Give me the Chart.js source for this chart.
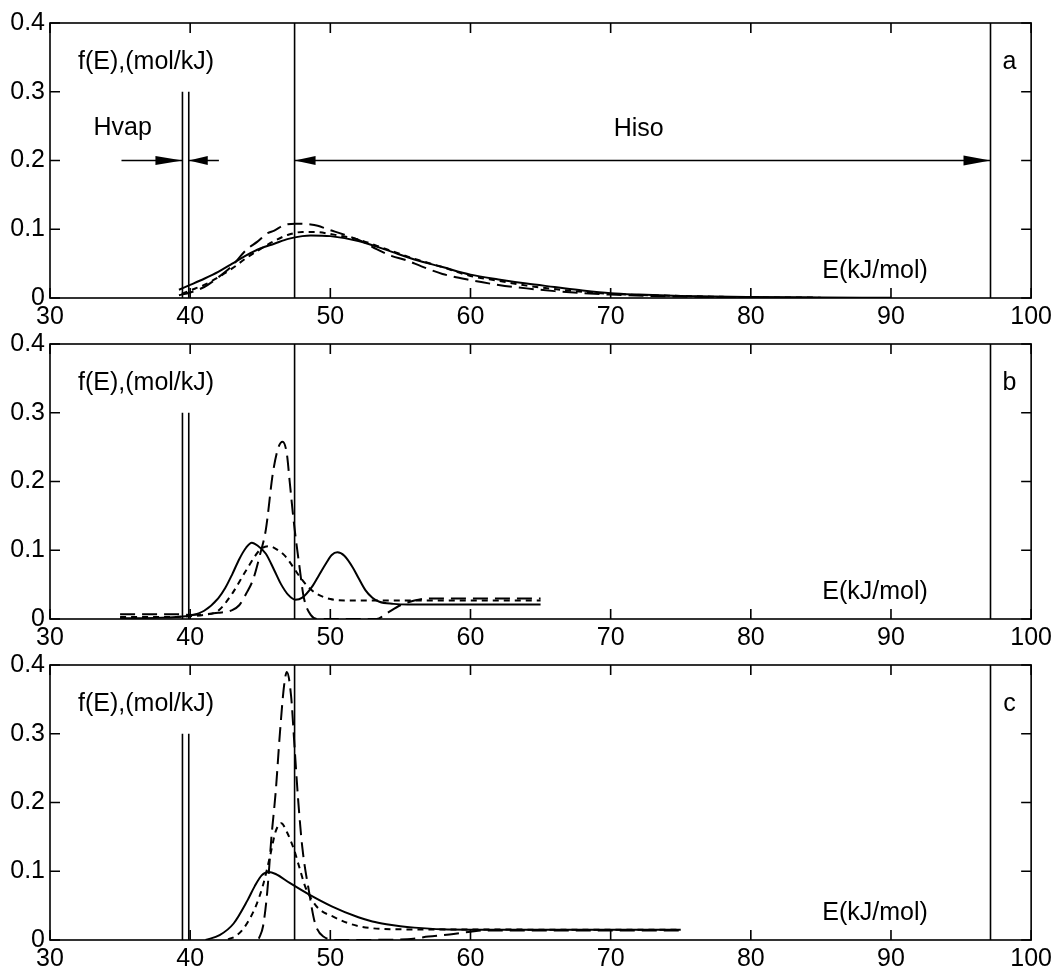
<!DOCTYPE html>
<html>
<head>
<meta charset="utf-8">
<title>f(E) distributions</title>
<script src="https://cdn.jsdelivr.net/npm/chart.js@4.4.1/dist/chart.umd.min.js"></script>
<style>
  body { margin: 0; background: #fff; overflow: hidden; }
  .panel { position: absolute; left: 0; }
</style>
</head>
<body>
<div class="panel" style="top:0px"><canvas id="chart_a" width="1056" height="333"></canvas></div>
<div class="panel" style="top:321px"><canvas id="chart_b" width="1056" height="333"></canvas></div>
<div class="panel" style="top:642px"><canvas id="chart_c" width="1056" height="331"></canvas></div>

<script>
// axis ticks
const xTicks = [30, 40, 50, 60, 70, 80, 90, 100];
const yTicks = [0, 0.1, 0.2, 0.3, 0.4];

// vertical marker lines (E, top value)
const markerE = [39.45, 39.9, 47.45, 97.1];
const markerTop = [0.3, 0.3, 0.4, 0.4];

// arrows of panel a, at f = 0.2
const arrowLevel = 0.2;
const hvapLeft = [35.1, 39.45];
const hvapRight = [39.9, 42.05];
const hisoSpan = [47.45, 97.1];

// panel a
const aSolidE = [39.2, 40, 41, 42, 43, 44, 45, 46, 47, 48, 48.6, 50, 52, 54, 56, 58, 60, 62, 64, 66, 68, 70, 72, 75, 80, 85, 90];
const aSolid  = [0.012, 0.019, 0.028, 0.038, 0.05, 0.062, 0.072, 0.079, 0.086, 0.09, 0.091, 0.09, 0.083, 0.07, 0.056, 0.045, 0.034, 0.027, 0.021, 0.016, 0.011, 0.007, 0.005, 0.003, 0.0015, 0.0008, 0.0003];
const aShortE = [39.4, 40, 41, 42, 43, 44, 45, 46, 47, 48, 49, 50, 52, 54, 56, 58, 60, 62, 64, 66, 68, 70, 75, 80, 85];
const aShort  = [0.006, 0.011, 0.019, 0.03, 0.043, 0.058, 0.071, 0.083, 0.092, 0.096, 0.096, 0.093, 0.085, 0.071, 0.057, 0.045, 0.032, 0.025, 0.018, 0.013, 0.009, 0.006, 0.003, 0.001, 0.0005];
const aLongE  = [39.2, 40, 41, 42, 43, 44, 44.8, 45.5, 46, 46.7, 47.5, 48.6, 49.1, 49.8, 51, 52.3, 53.3, 54.4, 55.4, 56.5, 58, 60, 62, 64, 66, 68, 70, 75, 80];
const aLong   = [0.004, 0.008, 0.016, 0.03, 0.047, 0.07, 0.082, 0.094, 0.098, 0.106, 0.108, 0.107, 0.105, 0.1, 0.092, 0.082, 0.071, 0.061, 0.055, 0.046, 0.035, 0.026, 0.019, 0.014, 0.01, 0.007, 0.005, 0.002, 0.001];

// panel b
const bSolidE = [35, 38, 39, 40, 41, 42, 42.5, 43, 43.5, 44, 44.4, 44.8, 45.4, 46, 46.5, 47, 47.5, 48, 48.7, 49.2, 49.7, 50.1, 50.5, 51, 51.6, 52, 52.5, 53, 53.5, 54.5, 55.5, 65];
const bSolid  = [0.001, 0.002, 0.003, 0.005, 0.012, 0.03, 0.045, 0.065, 0.087, 0.104, 0.111, 0.107, 0.095, 0.071, 0.05, 0.035, 0.028, 0.031, 0.047, 0.064, 0.081, 0.093, 0.097, 0.092, 0.075, 0.06, 0.042, 0.031, 0.025, 0.022, 0.021, 0.021];
const bShortE = [35, 39, 40, 41, 42, 43, 44, 45, 45.6, 46.2, 46.8, 47.3, 47.8, 48.4, 49, 50, 51, 52, 65];
const bShort  = [0.003, 0.003, 0.004, 0.006, 0.012, 0.037, 0.071, 0.101, 0.106, 0.101, 0.091, 0.077, 0.062, 0.047, 0.037, 0.029, 0.027, 0.027, 0.027];
const bLongE  = [35, 39, 40, 41, 42, 43, 43.5, 44, 44.5, 45, 45.4, 45.9, 46.3, 46.6, 46.9, 47.1, 47.4, 47.8, 48.1, 48.6, 49.2, 53.3, 54, 55, 56, 57, 65];
const bLong   = [0.007, 0.007, 0.006, 0.007, 0.009, 0.013, 0.02, 0.037, 0.058, 0.095, 0.13, 0.212, 0.25, 0.258, 0.24, 0.2, 0.14, 0.076, 0.032, 0.006, 0, 0, 0.008, 0.02, 0.027, 0.03, 0.03];

// panel c
const cSolidE = [41.1, 42.1, 43.1, 44.1, 44.6, 45.1, 45.6, 46.1, 47.1, 48.5, 50.1, 52, 53, 54, 55, 56, 58, 60, 75];
const cSolid  = [0, 0.007, 0.024, 0.058, 0.078, 0.094, 0.099, 0.096, 0.083, 0.066, 0.049, 0.033, 0.027, 0.023, 0.02, 0.018, 0.0155, 0.015, 0.015];
const cShortE = [42.7, 43.2, 43.7, 44.2, 44.7, 45.2, 45.7, 46.1, 46.5, 46.9, 47.4, 47.8, 48.2, 48.7, 49.2, 50.2, 51.2, 52.3, 54.7, 75];
const cShort  = [0.001, 0.005, 0.014, 0.029, 0.05, 0.08, 0.122, 0.158, 0.17, 0.157, 0.132, 0.105, 0.078, 0.058, 0.045, 0.034, 0.025, 0.019, 0.0155, 0.015];
const cLongE  = [44.9, 45.2, 45.5, 45.8, 46.1, 46.4, 46.7, 46.9, 47.2, 47.45, 47.7, 48, 48.5, 48.9, 49.5, 50.5, 55.5, 57, 58.5, 60, 61, 75];
const cLong   = [0.002, 0.02, 0.07, 0.15, 0.215, 0.3, 0.37, 0.39, 0.355, 0.28, 0.205, 0.135, 0.068, 0.025, 0.005, 0, 0.001, 0.005, 0.008, 0.012, 0.014, 0.014];

const FONT = '"Liberation Sans", Arial, Helvetica, sans-serif';
Chart.defaults.font.family = FONT;
Chart.defaults.font.size = 25;
Chart.defaults.color = '#000';

function curve(xs, ys, dash) {
    return {
        data: xs.map((x, i) => ({ x: x, y: ys[i] })),
        borderColor: '#000',
        borderWidth: 2,
        borderDash: dash,
        pointRadius: 0,
        fill: false,
        cubicInterpolationMode: 'monotone'
    };
}

function segment(x0, y0, x1, y1) {
    return {
        data: [{ x: x0, y: y0 }, { x: x1, y: y1 }],
        borderColor: '#000',
        borderWidth: 1.6,
        pointRadius: 0,
        fill: false,
        tension: 0
    };
}

// frame with inward ticks on all four sides
const framePlugin = {
    id: 'frame',
    afterDatasetsDraw(chart) {
        const { ctx, chartArea: a, scales: { x, y } } = chart;
        ctx.save();
        ctx.strokeStyle = '#000';
        ctx.lineWidth = 1.6;
        ctx.strokeRect(a.left, a.top, a.right - a.left, a.bottom - a.top);
        ctx.beginPath();
        xTicks.forEach(v => {
            const px = x.getPixelForValue(v);
            ctx.moveTo(px, a.bottom); ctx.lineTo(px, a.bottom - 10);
            ctx.moveTo(px, a.top); ctx.lineTo(px, a.top + 10);
        });
        yTicks.forEach(v => {
            const py = y.getPixelForValue(v);
            ctx.moveTo(a.left, py); ctx.lineTo(a.left + 10, py);
            ctx.moveTo(a.right, py); ctx.lineTo(a.right - 10, py);
        });
        ctx.stroke();
        ctx.restore();
    }
};

function arrowHead(ctx, tx, ty, dir, len, half) {
    ctx.beginPath();
    ctx.moveTo(tx, ty);
    ctx.lineTo(tx - dir * len, ty - half);
    ctx.lineTo(tx - dir * len, ty + half);
    ctx.closePath();
    ctx.fill();
}

// labels and arrow heads
const notesPlugin = {
    id: 'notes',
    afterDatasetsDraw(chart, args, opts) {
        const { ctx, scales: { x, y } } = chart;
        ctx.save();
        ctx.fillStyle = '#000';
        ctx.font = '25px ' + FONT;
        ctx.textBaseline = 'middle';
        ctx.textAlign = 'left';
        ctx.fillText('f(E),(mol/kJ)', x.getPixelForValue(32.0), y.getPixelForValue(0.343));
        ctx.fillText('E(kJ/mol)', x.getPixelForValue(85.1), y.getPixelForValue(0.0385));
        ctx.textAlign = 'center';
        ctx.fillText(opts.letter, x.getPixelForValue(98.45), y.getPixelForValue(0.343));
        if (opts.arrows) {
            ctx.textAlign = 'left';
            ctx.fillText('Hvap', x.getPixelForValue(33.1), y.getPixelForValue(0.2465));
            ctx.textAlign = 'center';
            ctx.fillText('Hiso', x.getPixelForValue(72.0), y.getPixelForValue(0.245));
            const py = y.getPixelForValue(arrowLevel);
            arrowHead(ctx, x.getPixelForValue(hvapLeft[1]), py, 1, 27, 4.5);
            arrowHead(ctx, x.getPixelForValue(hvapRight[0]), py, -1, 19, 4.5);
            arrowHead(ctx, x.getPixelForValue(hisoSpan[0]), py, -1, 21, 4.5);
            arrowHead(ctx, x.getPixelForValue(hisoSpan[1]), py, 1, 27, 5);
        }
        ctx.restore();
    }
};

function makeChart(id, curves, letter, arrows) {
    const datasets = curves.map(c => curve(c[0], c[1], c[2]));
    markerE.forEach((e, i) => datasets.push(segment(e, 0, e, markerTop[i])));
    if (arrows) {
        datasets.push(segment(hvapLeft[0], arrowLevel, hvapLeft[1], arrowLevel));
        datasets.push(segment(hvapRight[0], arrowLevel, hvapRight[1], arrowLevel));
        datasets.push(segment(hisoSpan[0], arrowLevel, hisoSpan[1], arrowLevel));
    }
    const canvas = document.getElementById(id);
    return new Chart(canvas, {
        type: 'line',
        data: { datasets: datasets },
        options: {
            responsive: false,
            animation: false,
            layout: { padding: { top: 23, right: 22, left: 0, bottom: 0 } },
            plugins: {
                legend: { display: false },
                tooltip: { enabled: false },
                notes: { letter: letter, arrows: arrows }
            },
            scales: {
                x: {
                    type: 'linear',
                    min: 30, max: 100,
                    afterBuildTicks: s => { s.ticks = xTicks.map(v => ({ value: v })); },
                    afterFit: s => { s.height = canvas.height - 298; },
                    grid: { display: false, drawTicks: false },
                    border: { display: false },
                    ticks: { padding: 4, maxRotation: 0, autoSkip: false }
                },
                y: {
                    type: 'linear',
                    min: 0, max: 0.4,
                    afterBuildTicks: s => { s.ticks = yTicks.map(v => ({ value: v })); },
                    afterFit: s => { s.width = 50; },
                    grid: { display: false, drawTicks: false },
                    border: { display: false },
                    ticks: {
                        padding: 5,
                        callback: v => v === 0 ? '0' : v.toFixed(1)
                    }
                }
            }
        },
        plugins: [framePlugin, notesPlugin]
    });
}

const SHORT = [6, 5];
const LONG = [15, 7];

makeChart('chart_a', [[aSolidE, aSolid, []], [aShortE, aShort, SHORT], [aLongE, aLong, LONG]], 'a', true);
makeChart('chart_b', [[bSolidE, bSolid, []], [bShortE, bShort, SHORT], [bLongE, bLong, LONG]], 'b', false);
makeChart('chart_c', [[cSolidE, cSolid, []], [cShortE, cShort, SHORT], [cLongE, cLong, LONG]], 'c', false);
</script>
</body>
</html>
